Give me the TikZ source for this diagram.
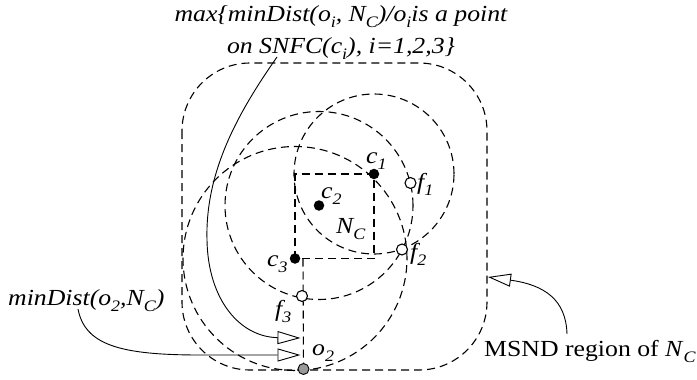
\documentclass[tikz,border=0pt]{standalone}
\usepackage{fontspec}
\setmainfont{Liberation Serif}[FakeStretch=1.12]
\usetikzlibrary{arrows.meta}
\newcommand{\sbs}[1]{\raisebox{-0.28em}{\fontsize{16}{16}\selectfont #1}}
\begin{document}
\begin{tikzpicture}[x=1pt,y=-1pt,
  dsh/.style={line width=1.1pt, dash pattern=on 8pt off 5pt},
  dotb/.style={circle, fill=black, inner sep=0pt, minimum size=10.5pt},
  doto/.style={circle, draw=black, fill=white, line width=1.1pt, inner sep=0pt, minimum size=11pt},
  dotg/.style={circle, draw=black, fill=black!40, line width=0.9pt, inner sep=0pt, minimum size=11pt},
  lbl/.style={inner sep=0pt, anchor=base west, font=\fontsize{23}{23}\selectfont\itshape},
  txt/.style={inner sep=0pt, font=\fontsize{23}{23}\selectfont},
  conn/.style={line width=0.9pt, -{Triangle[open, length=23pt, width=13pt, line width=0.9pt]}}
]
\useasboundingbox (0,0) rectangle (697,380);
% point positions
\coordinate (C1) at (374,174);
\coordinate (C2) at (319,205.5);
\coordinate (C3) at (295,258.5);
\coordinate (F1) at (410.5,183);
\coordinate (F2) at (402,249.5);
\coordinate (F3) at (302,296);
\coordinate (O2) at (303.5,369);
\coordinate (V) at (303,258.5);
% dashed geometry
\draw[dsh, rounded corners=68pt] (182,63) rectangle (487,370);
\draw[dsh] (C1) circle[radius=80pt];
\draw[dsh] (C2) circle[radius=94pt];
\draw[dsh] (C3) circle[radius=112pt];
\draw[dsh] (C3) rectangle (C1);
\draw[dsh] (V) -- (O2);
% points
\node[dotb] (c1) at (C1) {};
\node[dotb] (c2) at (C2) {};
\node[dotb] (c3) at (C3) {};
\node[doto] (f1) at (F1) {};
\node[doto] (f2) at (F2) {};
\node[doto] (f3) at (F3) {};
\node[dotg] (o2) at (O2) {};
% labels
\node[lbl] (lc1) at (366,163) {c\sbs{1}};
\node[lbl] (lc2) at (321,198) {c\sbs{2}};
\node[lbl] (lc3) at (267,266) {c\sbs{3}};
\node[lbl] (lf1) at (417,189) {f\sbs{1}};
\node[lbl] (lf2) at (410,259) {f\sbs{2}};
\node[lbl] (lf3) at (275,316) {f\sbs{3}};
\node[lbl] (lo2) at (312,355) {o\sbs{2}};
\node[lbl] (lnc) at (336,233) {N\sbs{C}};
% texts
\node[txt, anchor=base, font=\fontsize{23}{23}\selectfont\itshape] (t1) at (341,21) {max\{minDist(o\sbs{i}, N\sbs{C})/o\sbs{i}is a point};
\node[txt, anchor=base, font=\fontsize{23}{23}\selectfont\itshape] (t2) at (341,53) {on SNFC(c\sbs{i}), i=1,2,3\}};
\node[txt, anchor=base west] (ms) at (484,356) {MSND region of \textit{N}\sbs{\textit{C}}};
\node[txt, anchor=base west, font=\fontsize{23}{23}\selectfont\itshape] (md) at (8,305) {minDist(o\sbs{2},N\sbs{C})};
% connectors
\coordinate (A1) at (277,57);
\coordinate (A2) at (300.5,338);
\draw[conn] (A1) .. controls (240,110) and (205,170) .. (207,240) .. controls (208,300) and (240,337) .. (A2);
\coordinate (B1) at (78,309);
\coordinate (B2) at (300.5,355);
\draw[conn] (B1) .. controls (85,345) and (120,355) .. (200,355) -- (B2);
\coordinate (M1) at (567,334);
\coordinate (M2) at (488,277);
\draw[conn] (M1) .. controls (566,300) and (545,285) .. (M2);
\end{tikzpicture}
\end{document}
